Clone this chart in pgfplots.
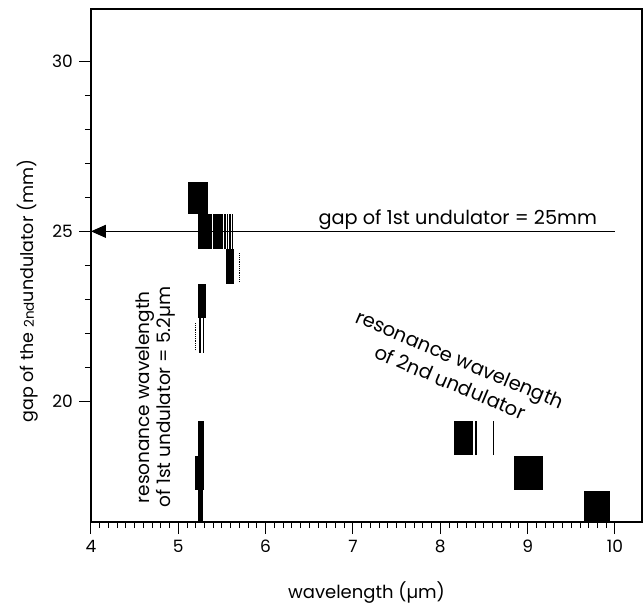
\documentclass[border=0pt]{standalone}
\usepackage{fontspec}
\setmainfont{Poppins}
\usepackage{pgfplots}
\pgfplotsset{compat=1.18}
\usetikzlibrary{arrows.meta}
\begin{document}
\fontsize{18pt}{20pt}\selectfont
\begin{tikzpicture}
\useasboundingbox (-91pt,-82pt) rectangle (553pt,522pt);
\begin{axis}[
  at={(0pt,0pt)}, anchor=south west,
  scale only axis, width=551pt, height=513pt,
  xmin=4, xmax=10.31, ymin=16.45, ymax=31.54,
  xtick={4,5,6,7,8,9,10}, ytick={20,25,30},
  minor x tick num=9, minor y tick num=4,
  tick align=outside, xtick pos=bottom, ytick pos=left,
  major tick length=12pt, minor tick length=6pt,
  every tick/.style={black, line width=1pt},
  axis line style={line width=1.2pt},
  tick label style={font=\fontsize{17pt}{19pt}\selectfont},
  /pgf/number format/assume math mode=true,
  xlabel={wavelength (µm)},
  ylabel={gap of the {\fontsize{13.5pt}{14pt}\selectfont 2nd}undulator (mm)},
  xlabel style={at={(axis description cs:0.5,-0.1365)}, anchor=center, font=\fontsize{18pt}{20pt}\selectfont},
  ylabel style={at={(axis description cs:-0.114,0.45)}, anchor=center, font=\fontsize{17.5pt}{20pt}\selectfont},
  clip=false,
]
% blocks near 1st resonance
\addplot[draw=none, fill=black] coordinates {(5.11,25.52) (5.34,25.52) (5.34,26.46) (5.11,26.46)} --cycle;
\addplot[draw=none, fill=black] coordinates {(5.22,24.47) (5.38,24.47) (5.38,25.52) (5.22,25.52)} --cycle;
\addplot[draw=none, fill=black] coordinates {(5.40,24.47) (5.51,24.47) (5.51,25.52) (5.40,25.52)} --cycle;
\addplot[line width=1.4pt] coordinates {(5.535,24.47) (5.535,25.52)};
\addplot[line width=1.4pt] coordinates {(5.56,24.47) (5.56,25.52)};
\addplot[line width=1.4pt] coordinates {(5.59,24.47) (5.59,25.52)};
\addplot[line width=1.4pt] coordinates {(5.62,24.47) (5.62,25.52)};
\addplot[draw=none, fill=black] coordinates {(5.55,23.45) (5.64,23.45) (5.64,24.49) (5.55,24.49)} --cycle;
\addplot[densely dotted, line width=1.2pt] coordinates {(5.70,23.50) (5.70,24.40)};
\addplot[draw=none, fill=black] coordinates {(5.23,22.46) (5.32,22.46) (5.32,23.45) (5.23,23.45)} --cycle;
\addplot[line width=1.6pt] coordinates {(5.245,21.43) (5.245,22.46)};
\addplot[line width=1.6pt] coordinates {(5.29,21.43) (5.29,22.46)};
\addplot[densely dotted, line width=1.2pt] coordinates {(5.20,21.50) (5.20,22.30)};
\addplot[draw=none, fill=black] coordinates {(5.22,18.40) (5.29,18.40) (5.29,19.41) (5.22,19.41)} --cycle;
\addplot[draw=none, fill=black] coordinates {(5.19,17.39) (5.29,17.39) (5.29,18.40) (5.19,18.40)} --cycle;
\addplot[draw=none, fill=black] coordinates {(5.22,16.45) (5.28,16.45) (5.28,17.39) (5.22,17.39)} --cycle;
% blocks near 2nd resonance
\addplot[draw=none, fill=black] coordinates {(8.16,18.42) (8.37,18.42) (8.37,19.43) (8.16,19.43)} --cycle;
\addplot[line width=1.5pt] coordinates {(8.41,18.42) (8.41,19.43)};
\addplot[line width=1.5pt] coordinates {(8.61,18.42) (8.61,19.43)};
\addplot[draw=none, fill=black] coordinates {(8.84,17.39) (9.18,17.39) (9.18,18.40) (8.84,18.40)} --cycle;
\addplot[draw=none, fill=black] coordinates {(9.64,16.45) (9.94,16.45) (9.94,17.37) (9.64,17.37)} --cycle;
% arrow: gap of 1st undulator
\addplot[line width=1.2pt, -{Triangle[length=15pt,width=13pt]}] coordinates {(10,25) (4,25)};
\node[anchor=base, font=\fontsize{19.3pt}{21pt}\selectfont] at (axis cs:8.2,25.21) {gap of 1st undulator = 25mm};
\node[rotate=90, align=center, font=\fontsize{18.5pt}{21pt}\selectfont] at (axis cs:4.74,20.12) {resonance wavelength\\of 1st undulator = 5.2µm};
\node[rotate=-23, align=center, font=\fontsize{19.5pt}{25pt}\selectfont] at (axis cs:8.17,20.9) {resonance wavelength\\of 2nd undulator};
\end{axis}
\end{tikzpicture}
\end{document}
